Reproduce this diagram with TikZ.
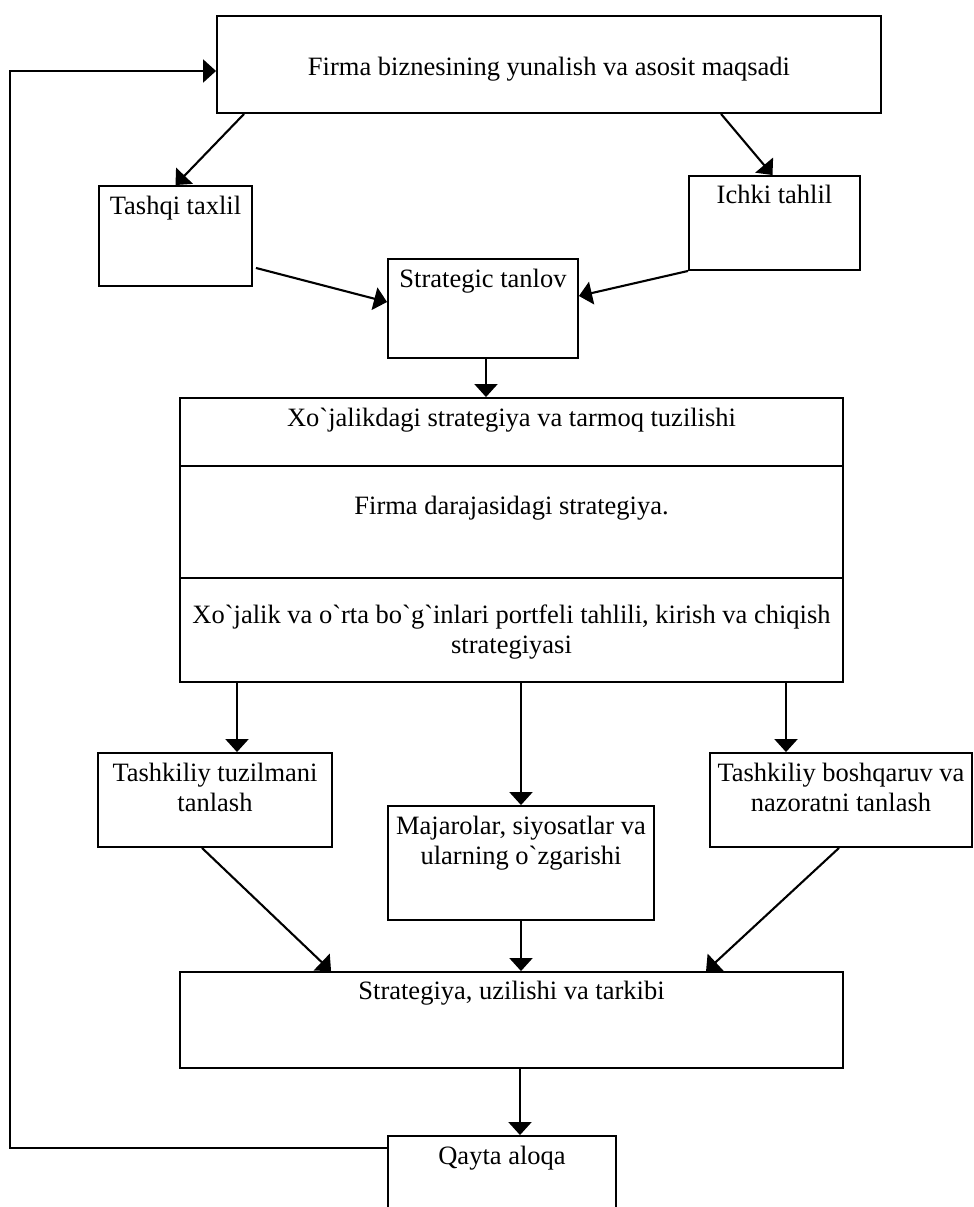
\documentclass[tikz,border=0pt]{standalone}
\usepackage{fontspec}
\newfontfamily\uzfont{Liberation Serif}
\usetikzlibrary{arrows.meta,positioning}

\begin{document}
\begin{tikzpicture}[x=1pt, y=-1pt,
    every node/.style={font=\uzfont\fontsize{26.5}{30}\selectfont},
    box/.style={draw, line width=1.9pt, inner sep=0pt},
    txt/.style={anchor=base, align=center, inner sep=0pt},
    arr/.style={line width=2.1pt, -{Triangle[length=13pt,width=23pt]}}]
    \useasboundingbox (0,0) rectangle (974,1207);
    % Goal
    \node[box, minimum width=664pt, minimum height=97pt] (goal) at (549,64.5) {};
    \node[txt] (goal-t) at (549,75) {Firma biznesining yunalish va asosit maqsadi};
    % Analysis
    \node[box, minimum width=153pt, minimum height=100pt] (tashqi) at (175.5,236) {};
    \node[txt] (tashqi-t) at (175.5,214) {Tashqi taxlil};
    \node[box, minimum width=171pt, minimum height=94pt] (ichki) at (774.5,223) {};
    \node[txt] (ichki-t) at (774.5,203) {Ichki tahlil};
    \node[box, minimum width=190pt, minimum height=99pt] (tanlov) at (483,308.5) {};
    \node[txt] (tanlov-t) at (483,287) {Strategic tanlov};
    % Strategy levels
    \node[box, minimum width=663pt, minimum height=284pt] (daraja) at (511.5,540) {};
    \draw[line width=1.9pt] ([yshift=-69pt]daraja.north west) -- ([yshift=-69pt]daraja.north east);
    \draw[line width=1.9pt] ([yshift=-181pt]daraja.north west) -- ([yshift=-181pt]daraja.north east);
    \node[txt] (daraja-a) at (511.5,426) {Xo`jalikdagi strategiya va tarmoq tuzilishi};
    \node[txt] (daraja-b) at (511.5,514) {Firma darajasidagi strategiya.};
    \node[txt] (daraja-c) at (511.5,653) {Xo`jalik va o`rta bo`g`inlari portfeli tahlili, kirish va chiqish\\strategiyasi};
    % Implementation
    \node[box, minimum width=234pt, minimum height=94pt] (tuzilma) at (215,800) {};
    \node[txt] (tuzilma-t) at (215,811) {Tashkiliy tuzilmani\\tanlash};
    \node[box, minimum width=266pt, minimum height=114pt] (siyosat) at (521,863) {};
    \node[txt] (siyosat-t) at (521,864) {Majarolar, siyosatlar va\\ularning o`zgarishi};
    \node[box, minimum width=262pt, minimum height=94pt] (nazorat) at (841,800) {};
    \node[txt] (nazorat-t) at (841,811) {Tashkiliy boshqaruv va\\nazoratni tanlash};
    % Result and feedback
    \node[box, minimum width=663pt, minimum height=96pt] (tarkib) at (511.5,1020) {};
    \node[txt] (tarkib-t) at (511.5,999) {Strategiya, uzilishi va tarkibi};
    \node[box, minimum width=228pt, minimum height=100pt] (aloqa) at (502,1186) {};
    \node[txt] (aloqa-t) at (502,1164) {Qayta aloqa};
    \coordinate (fb) at (10,1148);
    % Arrows
    \draw[arr] ([xshift=28pt]goal.south west) -- (tashqi.north);
    \draw[arr] ([xshift=505pt]goal.south west) -- ([xshift=-2pt]ichki.north);
    \draw[arr] ([shift={(3pt,19pt)}]tashqi.south east) -- ([yshift=6.5pt]tanlov.west);
    \draw[arr] (ichki.south west) -- ([yshift=12.5pt]tanlov.east);
    \draw[arr] ([xshift=3pt]tanlov.south) -- ([xshift=3pt]tanlov.south |- daraja.north);
    \draw[arr] ([xshift=22pt]tuzilma.north |- daraja.south) -- ([xshift=22pt]tuzilma.north);
    \draw[arr] (siyosat.north |- daraja.south) -- (siyosat.north);
    \draw[arr] ([xshift=-55pt]nazorat.north |- daraja.south) -- ([xshift=-55pt]nazorat.north);
    \draw[arr] ([xshift=-13pt]tuzilma.south) -- ([xshift=152pt]tarkib.north west);
    \draw[arr] (siyosat.south) -- (siyosat.south |- tarkib.north);
    \draw[arr] ([xshift=-2pt]nazorat.south) -- ([xshift=527pt]tarkib.north west);
    \draw[arr] ([xshift=18pt]aloqa.north |- tarkib.south) -- ([xshift=18pt]aloqa.north);
    \draw[arr] ([yshift=38pt]aloqa.west) -- (fb) |- ([yshift=-6.5pt]goal.west);
\end{tikzpicture}
\end{document}
